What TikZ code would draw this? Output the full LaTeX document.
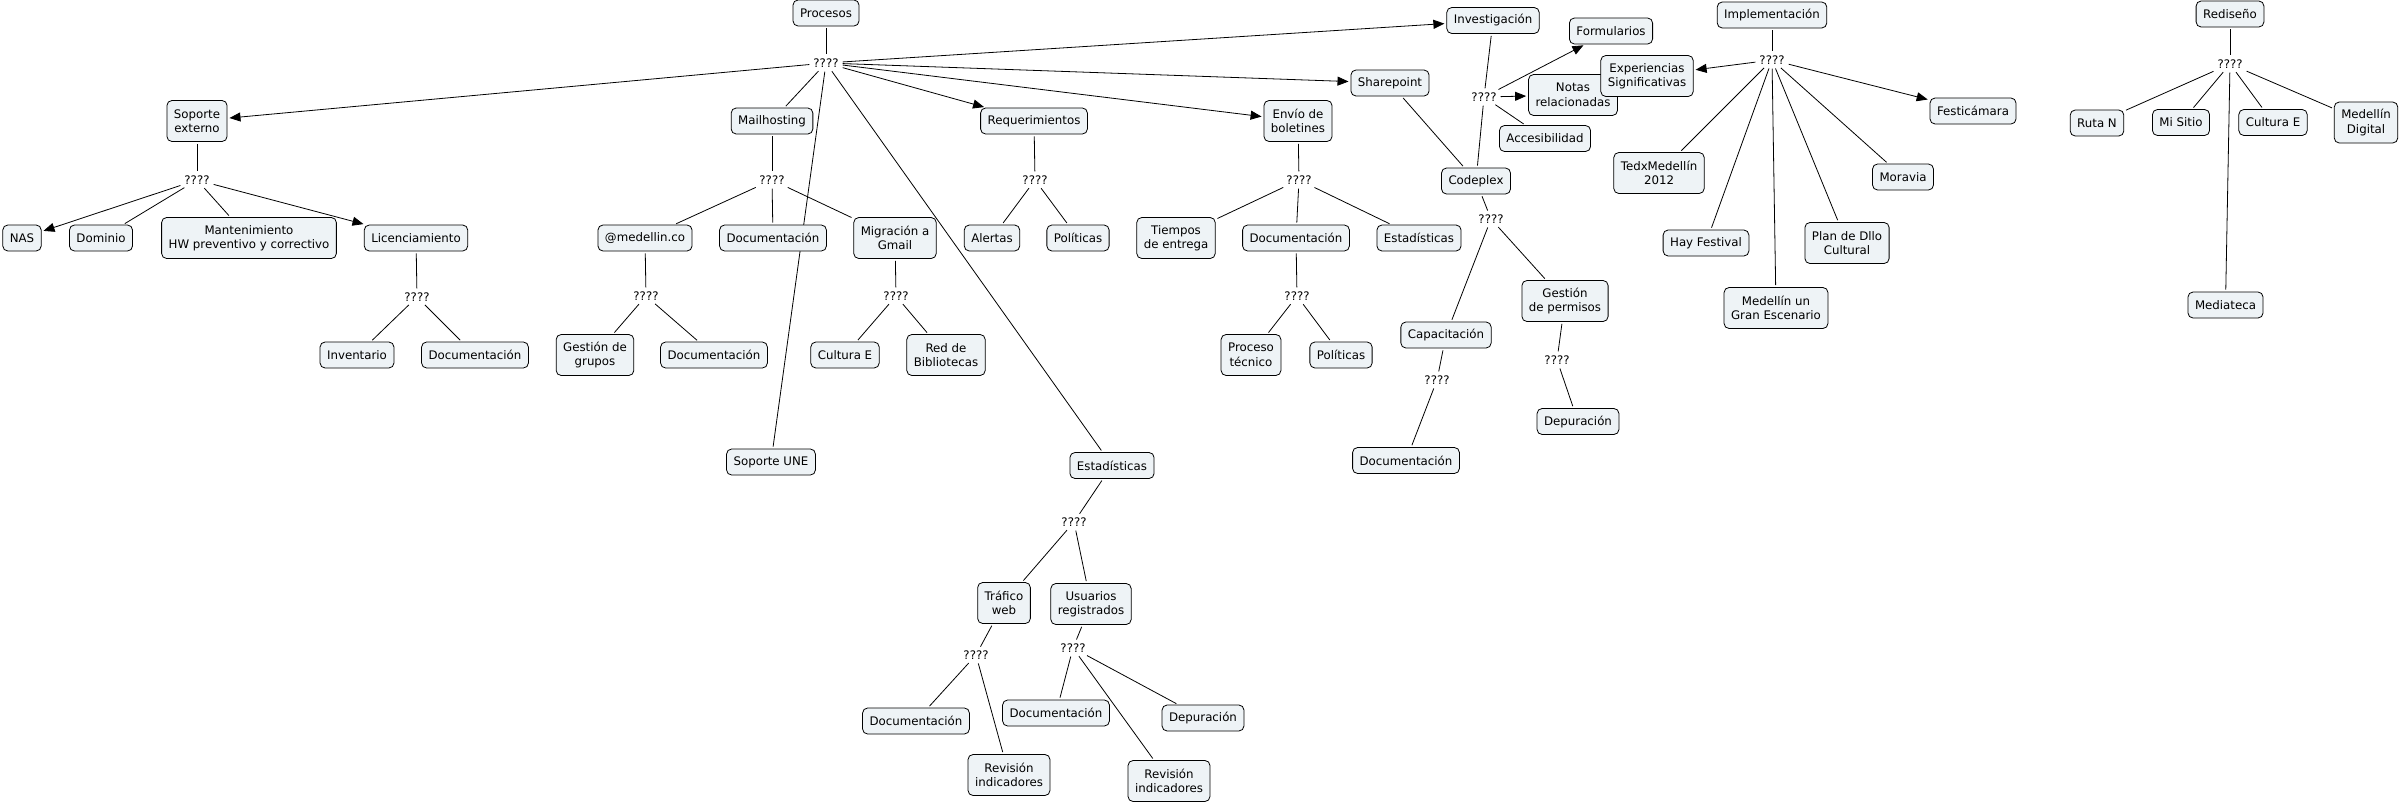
\documentclass[tikz,border=0pt]{standalone}
\usepackage{fontspec}
\setmainfont{DejaVu Sans}
\usetikzlibrary{arrows.meta,backgrounds}
\definecolor{boxfill}{RGB}{238,243,246}
\tikzset{
  box/.style={draw=black, line width=0.8pt, rounded corners=5pt, fill=boxfill,
    inner xsep=7pt, inner ysep=0pt, minimum height=26pt, align=center,
    font=\fontsize{11.8}{14.5}\selectfont},
  box2/.style={box, minimum height=41pt},
  lp/.style={inner sep=2pt, font=\fontsize{11.8}{14.5}\selectfont},
  ln/.style={line width=0.8pt, shorten >=2pt, shorten <=2pt},
  arr/.style={ln, -{Triangle[length=11pt,width=9pt]}}
}
\begin{document}
\begin{tikzpicture}[x=1pt,y=-1pt]
\useasboundingbox (0,0) rectangle (2399,804);
% main
\node[box] (proc) at (826,13) {Procesos};
\node[lp] (m) at (826,63) {????};
% soporte externo
\node[box2] (sop) at (197,121) {Soporte\\externo};
\node[lp] (qs) at (197,180) {????};
\node[box] (nas) at (22,238) {NAS};
\node[box] (dom) at (101,238) {Dominio};
\node[box2] (mant) at (249,238) {Mantenimiento\\HW preventivo y correctivo};
\node[box] (lic) at (416,238) {Licenciamiento};
\node[lp] (ql) at (417,297) {????};
\node[box] (inv) at (357,355) {Inventario};
\node[box] (docl) at (475,355) {Documentación};
% mailhosting
\node[box] (mail) at (772,121) {Mailhosting};
\node[lp] (qm) at (772,180) {????};
\node[box] (med) at (645,238) {@medellin.co};
\node[box] (docm) at (773,238) {Documentación};
\node[box2] (mig) at (895,238) {Migración a\\Gmail};
\node[lp] (qmed) at (646,296) {????};
\node[box2] (gg) at (595,355) {Gestión de\\grupos};
\node[box] (docmed) at (714,355) {Documentación};
\node[lp] (qg) at (896,296) {????};
\node[box] (ceA) at (845,355) {Cultura E};
\node[box2] (rb) at (946,355) {Red de\\Bibliotecas};
\node[box] (une) at (771,462) {Soporte UNE};
% requerimientos
\node[box] (req) at (1034,121) {Requerimientos};
\node[lp] (qr) at (1035,180) {????};
\node[box] (ale) at (992,238) {Alertas};
\node[box] (polr) at (1078,238) {Políticas};
% envio
\node[box2] (env) at (1298,121) {Envío de\\boletines};
\node[lp] (qe) at (1299,180) {????};
\node[box2] (tie) at (1176,238) {Tiempos\\de entrega};
\node[box] (doce) at (1296,238) {Documentación};
\node[box] (este) at (1419,238) {Estadísticas};
\node[lp] (qde) at (1297,296) {????};
\node[box2] (pt) at (1251,355) {Proceso\\técnico};
\node[box] (pole) at (1341,355) {Políticas};
% investigacion / sharepoint
\node[box] (shp) at (1390,83) {Sharepoint};
\node[box] (invg) at (1493,20.5) {Investigación};
\node[lp] (qi) at (1484,97) {????};
\node[box] (form) at (1611,31) {Formularios};
\node[box2] (notas) at (1573,95) {Notas\\relacionadas};
\node[box] (acc) at (1545,138.5) {Accesibilidad};
\node[box] (code) at (1476,181) {Codeplex};
\node[lp] (qc) at (1491,219) {????};
\node[box] (cap) at (1446,335) {Capacitación};
\node[box2] (gp) at (1565,301) {Gestión\\de permisos};
\node[lp] (qcap) at (1437,380) {????};
\node[box] (docc) at (1406,460.5) {Documentación};
\node[lp] (qgp) at (1557,360) {????};
\node[box] (depg) at (1578,421.5) {Depuración};
% implementacion
\node[box] (impl) at (1772,15) {Implementación};
\node[lp] (qim) at (1772,60) {????};
\node[box2] (exp) at (1647,76) {Experiencias\\Significativas};
\node[box] (fest) at (1973,111) {Festicámara};
\node[box2] (ted) at (1659,173) {TedxMedellín\\2012};
\node[box] (hay) at (1706,243) {Hay Festival};
\node[box2] (mgs) at (1776,308) {Medellín un\\Gran Escenario};
\node[box2] (plan) at (1847,243) {Plan de Dllo\\Cultural};
\node[box] (mor) at (1903,177) {Moravia};
% rediseno
\node[box] (red) at (2230,14) {Rediseño};
\node[lp] (qred) at (2230,64) {????};
\node[box] (ruta) at (2097,123) {Ruta N};
\node[box] (mis) at (2181,122.5) {Mi Sitio};
\node[box] (ceB) at (2273,122.5) {Cultura E};
\node[box2] (mdig) at (2366,122.5) {Medellín\\Digital};
\node[box] (medt) at (2225.5,305) {Mediateca};
% estadisticas
\node[box] (est) at (1112,465.5) {Estadísticas};
\node[lp] (qest) at (1074,522) {????};
\node[box2] (traf) at (1004,603) {Tráfico\\web};
\node[box2] (usu) at (1091,604) {Usuarios\\registrados};
\node[lp] (qt) at (976,655) {????};
\node[lp] (qu) at (1073,648) {????};
\node[box] (doct) at (916,721) {Documentación};
\node[box2] (revt) at (1009,775) {Revisión\\indicadores};
\node[box] (docu) at (1056,713) {Documentación};
\node[box] (depu) at (1203,718) {Depuración};
\node[box2] (revu) at (1169,781) {Revisión\\indicadores};

\begin{pgfonlayer}{background}
\fill[white] (0,0) rectangle (2399,804);
\draw[ln] (proc) -- (m);
\draw[arr] (m) -- (sop);
\draw[ln] (m) -- (mail);
\draw[ln] (m) -- (une);
\draw[ln] (m) -- (est);
\draw[arr] (m) -- (req);
\draw[arr] (m) -- (env);
\draw[arr] (m) -- (shp);
\draw[arr] (m) -- (invg);
% soporte
\draw[ln] (sop) -- (qs);
\draw[arr] (qs) -- (nas);
\draw[ln] (qs) -- (dom);
\draw[ln] (qs) -- (mant);
\draw[arr] (qs) -- (lic);
\draw[ln] (lic) -- (ql);
\draw[ln] (ql) -- (inv);
\draw[ln] (ql) -- (docl);
% mail
\draw[ln] (mail) -- (qm);
\draw[ln] (qm) -- (med);
\draw[ln] (qm) -- (docm);
\draw[ln] (qm) -- (mig);
\draw[ln] (med) -- (qmed);
\draw[ln] (qmed) -- (gg);
\draw[ln] (qmed) -- (docmed);
\draw[ln] (mig) -- (qg);
\draw[ln] (qg) -- (ceA);
\draw[ln] (qg) -- (rb);
% req
\draw[ln] (req) -- (qr);
\draw[ln] (qr) -- (ale);
\draw[ln] (qr) -- (polr);
% envio
\draw[ln] (env) -- (qe);
\draw[ln] (qe) -- (tie);
\draw[ln] (qe) -- (doce);
\draw[ln] (qe) -- (este);
\draw[ln] (doce) -- (qde);
\draw[ln] (qde) -- (pt);
\draw[ln] (qde) -- (pole);
% investigacion
\draw[ln] (invg) -- (qi);
\draw[ln] (qi) -- (code);
\draw[arr] (qi) -- (form);
\draw[arr] (qi) -- (notas);
\draw[ln] (qi) -- (acc);
\draw[ln] (shp) -- (code);
\draw[ln] (code) -- (qc);
\draw[ln] (qc) -- (cap);
\draw[ln] (qc) -- (gp);
\draw[ln] (cap) -- (qcap);
\draw[ln] (qcap) -- (docc);
\draw[ln] (gp) -- (qgp);
\draw[ln] (qgp) -- (depg);
% implementacion
\draw[ln] (impl) -- (qim);
\draw[arr] (qim) -- (exp);
\draw[arr] (qim) -- (fest);
\draw[ln] (qim) -- (ted);
\draw[ln] (qim) -- (hay);
\draw[ln] (qim) -- (mgs);
\draw[ln] (qim) -- (plan);
\draw[ln] (qim) -- (mor);
% rediseno
\draw[ln] (red) -- (qred);
\draw[ln] (qred) -- (ruta);
\draw[ln] (qred) -- (mis);
\draw[ln] (qred) -- (ceB);
\draw[ln] (qred) -- (mdig);
\draw[ln] (qred) -- (medt);
% estadisticas
\draw[ln] (est) -- (qest);
\draw[ln] (qest) -- (traf);
\draw[ln] (qest) -- (usu);
\draw[ln] (traf) -- (qt);
\draw[ln] (qt) -- (doct);
\draw[ln] (qt) -- (revt);
\draw[ln] (usu) -- (qu);
\draw[ln] (qu) -- (docu);
\draw[ln] (qu) -- (depu);
\draw[ln] (qu) -- (revu);
\end{pgfonlayer}
\end{tikzpicture}
\end{document}
